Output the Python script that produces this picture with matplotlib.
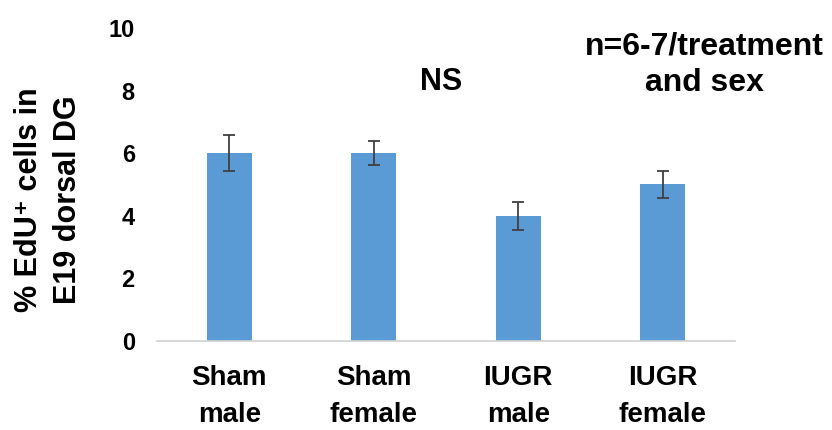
import matplotlib
matplotlib.use("Agg")
import matplotlib.pyplot as plt

plt.rcParams['font.family'] = ['Liberation Sans', 'DejaVu Sans']
plt.rcParams['font.weight'] = 'bold'

categories = ["Sham\nmale", "Sham\nfemale", "IUGR\nmale", "IUGR\nfemale"]
values = [6.0, 6.0, 4.0, 5.0]
errors = [0.58, 0.38, 0.45, 0.42]
yticks = [0, 2, 4, 6, 8, 10]

fig = plt.figure(figsize=(8.32, 4.30), dpi=100)
ax = fig.add_axes([0.1887, 0.207, 0.6947, 0.728])

x = range(len(categories))
ax.bar(x, values, width=0.31, color='#5b9bd5', zorder=2)
ax.errorbar(x, values, yerr=errors, fmt='none', ecolor='#404040',
            elinewidth=1.3, capsize=4, capthick=1.3, zorder=3)

ax.set_xlim(-0.5, len(categories) - 0.5)
ax.set_ylim(0, 10)
ax.set_yticks(yticks)
ax.set_yticklabels([str(t) for t in yticks], fontsize=17, fontweight='bold')
ax.set_xticks(list(x))
ax.set_xticklabels(categories, fontsize=20, fontweight='bold', linespacing=1.55)

for s in ['top', 'right', 'left']:
    ax.spines[s].set_visible(False)
ax.spines['bottom'].set_color('#d0d0d0')
ax.spines['bottom'].set_linewidth(1.2)
ax.tick_params(axis='both', length=0)
ax.tick_params(axis='y', pad=16)
ax.tick_params(axis='x', pad=17)

fig.text(0.058, 0.535, "% EdU\u207a cells in\nE19 dorsal DG", rotation=90,
         ha='center', va='center', fontsize=22, fontweight='bold',
         linespacing=1.4)

fig.text(0.53, 0.81, "NS", ha='center', va='center', fontsize=22,
         fontweight='bold')
fig.text(0.847, 0.85, "n=6-7/treatment\nand sex", ha='center', va='center',
         fontsize=23, fontweight='bold', linespacing=1.3)

fig.savefig("out.png", dpi=100, facecolor='white')
